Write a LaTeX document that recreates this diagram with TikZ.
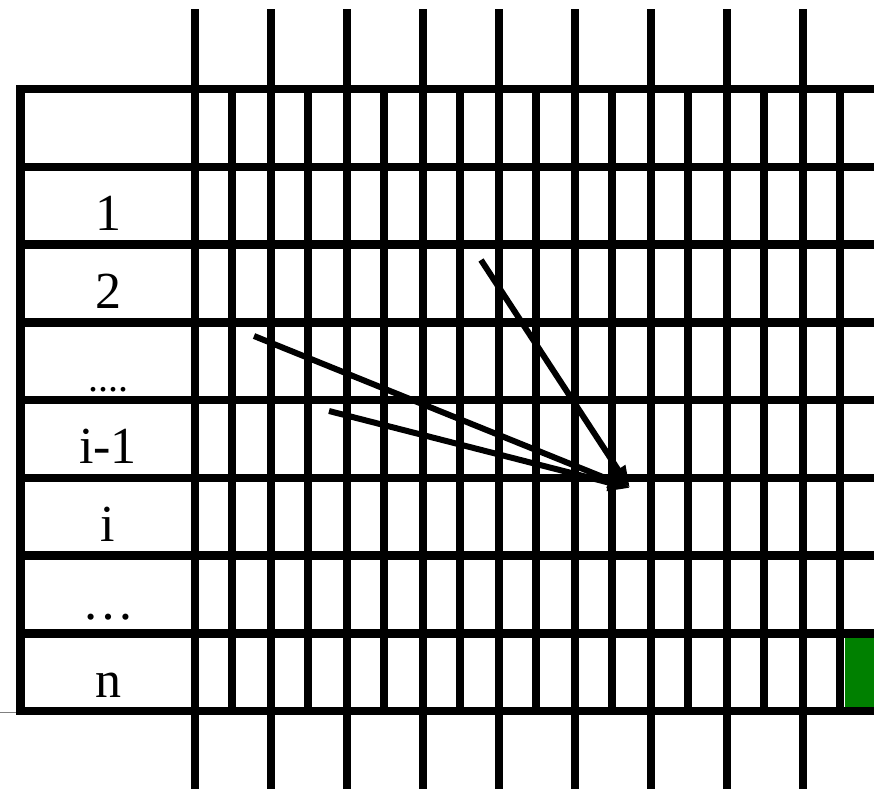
\documentclass[tikz,border=0pt]{standalone}
\usepackage{fontspec}
\setmainfont{Liberation Serif}
\usetikzlibrary{arrows.meta}
\definecolor{cellgreen}{RGB}{0,128,0}

\begin{document}
\begin{tikzpicture}[x=1pt,y=-1pt, gridline/.style={line width=8.5pt}, lab/.style={font=\fontsize{52}{60}\selectfont,anchor=base,inner sep=0pt}, arr/.style={-{Triangle[length=22pt,width=16pt]},line width=6pt}]
\useasboundingbox (0,0) rectangle (874,789);
\fill[cellgreen] (845,637) rectangle (874,707);
\draw[gray,line width=1pt] (0,712) -- (20,712);
% rows
\foreach \k in {0,...,8} \draw[gridline] (20.5,89+77.75*\k) -- (874,89+77.75*\k);
\draw[gridline,line cap=rect] (20.5,89) -- (20.5,711);
% columns
\foreach \i in {0,...,8} \draw[gridline] (195+76*\i,9.5) -- (195+76*\i,789);
\foreach \i in {0,...,8} \draw[gridline] (232+76*\i,89) -- (232+76*\i,711);
% row labels
\node[lab] (r1) at (108,230) {1};
\node[lab] (r2) at (108,308) {2};
\node[lab,font=\fontsize{40}{48}\selectfont] (rdots) at (108,391) {....};
\node[lab] (rim) at (108,463) {i-1};
\node[lab] (ri) at (108,541) {i};
\node[lab] (rmore) at (108,619) {\ldots};
\node[lab] (rn) at (108,697) {n};
% arrows
\coordinate (tip) at (630,488);
\coordinate (s1) at (254,336);
\coordinate (s2) at (329,411);
\coordinate (s3) at (481,260);
\draw[arr] (s1) -- (tip);
\draw[arr] (s2) -- (tip);
\draw[arr] (s3) -- (tip);
\end{tikzpicture}
\end{document}
